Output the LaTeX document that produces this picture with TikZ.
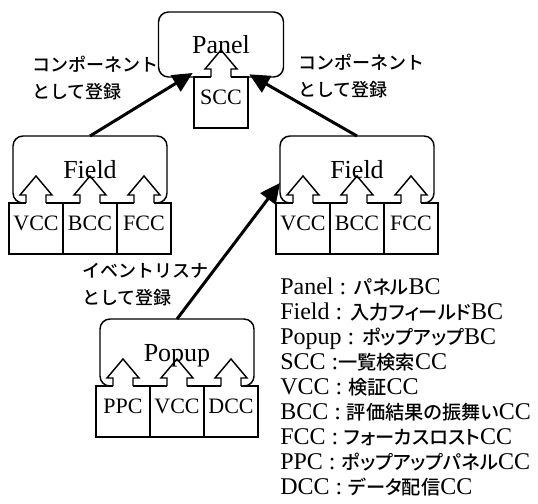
\documentclass[tikz,border=0pt]{standalone}
\usepackage{fontspec}
\setmainfont{Liberation Serif}
\newfontfamily\cjk[Scale=0.78, UprightFont=* Medium]{Noto Sans CJK JP}
\newfontfamily\cjkp[Scale=0.8, UprightFont=* Medium, RawFeature=+palt]{Noto Sans CJK JP}
\usetikzlibrary{arrows.meta,positioning}
\newcommand{\jp}[1]{{\cjkp #1}}
\newcommand{\ccup}[1]{%
  \fill[white] ([xshift=-7.5pt,yshift=-0.8pt]#1.north) rectangle ++(20,-9);
  \draw[line width=1.1pt] ([xshift=-7.5pt]#1.north) -- ++(0,-8) -- ++(-6,0)
    -- ++(16,-19) -- ++(16,19) -- ++(-6,0) -- ++(0,8);
}
\tikzset{
  bc/.style={draw, line width=1.1pt, rounded corners=7.5pt, minimum width=115.5pt,
    minimum height=50.25pt, inner sep=0pt, outer sep=0pt, text depth=0pt,
    font=\fontsize{19.5}{20}\selectfont},
  cc/.style={draw, line width=1.1pt, minimum width=40.5pt, minimum height=38.25pt,
    inner sep=0pt, outer sep=0pt, text height=11pt, text depth=7.5pt,
    font=\fontsize{16.5}{18}\selectfont},
  reg/.style={line width=2.25pt, -{Triangle[length=15pt,width=14pt]}},
  lbl/.style={align=left, anchor=west, inner sep=0pt,
    font=\fontsize{17.3}{20.25}\selectfont\cjk},
  key/.style={align=left, anchor=north west, inner sep=0pt,
    font=\fontsize{18}{18.75}\selectfont}
}

\begin{document}
\begin{tikzpicture}[x=0.75pt, y=-0.75pt]
\useasboundingbox (0,0) rectangle (538,503);

% Panel
\node[cc] (scc) at (221,102.5) {SCC};
\node[bc, minimum width=93.75pt, minimum height=48.75pt, above=0pt of scc] (panel) {Panel};

% Field (left)
\node[cc] (bccL) at (90,228.5) {BCC};
\node[cc, left=0pt of bccL] (vccL) {VCC};
\node[cc, right=0pt of bccL] (fccL) {FCC};
\node[bc, above=0pt of bccL] (fieldL) {Field};

% Field (right)
\node[cc] (bccR) at (357,228.5) {BCC};
\node[cc, left=0pt of bccR] (vccR) {VCC};
\node[cc, right=0pt of bccR] (fccR) {FCC};
\node[bc, above=0pt of bccR] (fieldR) {Field};

% Popup
\node[cc] (vccP) at (177,411.5) {VCC};
\node[cc, left=0pt of vccP] (ppcP) {PPC};
\node[cc, right=0pt of vccP] (dccP) {DCC};
\node[bc, above=0pt of vccP] (popup) {Popup};

% CC arrows
\foreach \b in {scc,vccL,bccL,fccL,vccR,bccR,fccR,ppcP,vccP,dccP} {
  \ccup{\b}
}

% Registration
\draw[reg] (fieldL.north) -- ([shift={(-1pt,3pt)}]scc.north west);
\draw[reg] (fieldR.north) -- ([shift={(1pt,2pt)}]scc.north east);
\draw[reg] (popup.north) -- ([yshift=15pt]fieldR.south west);

\node[lbl] (regL) at (32,78.5) {コンポーネント\\として登録};
\node[lbl] (regR) at (298,76.5) {コンポーネント\\として登録};
\node[lbl] (regP) at (82,284.5) {イベントリスナ\\として登録};

% Legend
\node[key] (legend) at (280,278) {Panel : \jp{パネル}BC\\
Field : \jp{入力フィールド}BC\\
Popup : \jp{ポップアップ}BC\\
SCC :\jp{一覧検索}CC\\
VCC : \jp{検証}CC\\
BCC : \jp{評価結果の振舞い}CC\\
FCC : \jp{フォーカスロスト}CC\\
PPC : \jp{ポップアップパネル}CC\\
DCC : \jp{データ配信}CC};
\end{tikzpicture}
\end{document}
